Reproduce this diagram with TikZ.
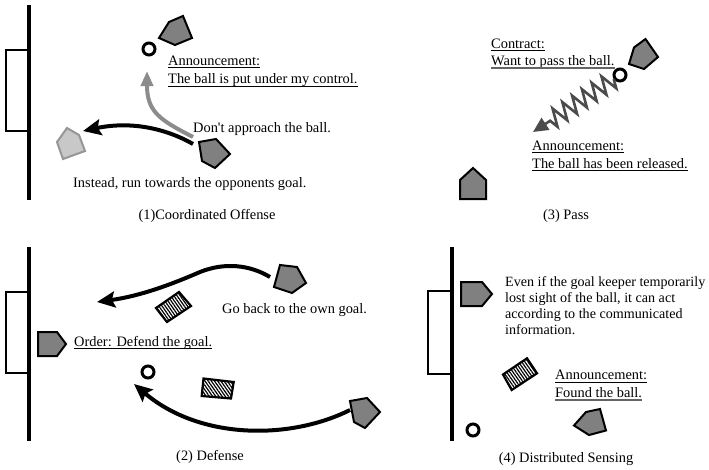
\documentclass[tikz,border=0pt]{standalone}
\usepackage{fontspec}
\setmainfont{Liberation Serif}[Ligatures=TeXOff]
\usetikzlibrary{arrows.meta,decorations.pathmorphing,patterns.meta}
\definecolor{robotgray}{RGB}{128,128,128}
\definecolor{lightfill}{RGB}{200,200,200}
\definecolor{lightline}{RGB}{150,150,150}
\definecolor{arrowgray}{RGB}{140,140,140}
\definecolor{zzgray}{RGB}{75,75,75}
\definecolor{ulgray}{RGB}{100,100,100}
\begin{document}
\begin{tikzpicture}[x=1pt,y=-1pt,
  txt/.style={anchor=base west, inner sep=0pt, font=\fontsize{14.4}{16}\selectfont},
  paratxt/.style={anchor=base west, inner sep=0pt, font=\fontsize{14.1}{16}\selectfont},
  captxt/.style={anchor=base, inner sep=0pt, font=\fontsize{14.4}{16}\selectfont},
  field/.style={line width=3.2pt},
  goalbox/.style={line width=2.8pt},
  robot/.style={draw=black, fill=robotgray, line width=2pt, line join=miter},
  lightrobot/.style={draw=lightline, fill=lightfill, line width=2pt},
  ball/.style={circle, draw=black, line width=3pt, minimum size=12pt, inner sep=0pt},
  hatchbox/.style={draw=black, line width=2.2pt, pattern={Lines[angle=-55,distance=2.6pt,line width=1.2pt]}},
  blackarrow/.style={line width=4pt, -{Stealth[length=18pt,width=16pt,inset=3pt]}},
  greyarrow/.style={draw=arrowgray, line width=4pt, -{Triangle[length=15pt,width=12pt]}},
  zz/.style={draw=zzgray, line width=2.6pt, line join=miter, decorate,
     decoration={zigzag, segment length=11.7pt, amplitude=9pt, post length=20pt},
     -{Triangle[length=15pt,width=14pt]}},
  ulblack/.style={line width=1pt, draw=black},
  ulgrey/.style={line width=1.5pt, draw=ulgray}
]
\useasboundingbox (0,0) rectangle (709,469);

% ---------------- Panel (1) ----------------
\draw[field] (29,5) -- (29,200);
\draw[goalbox] (6,50) rectangle (29,131);
\node[ball] (b1) at (149,49) {};
\draw[robot] (159,38) -- (169,22) -- (183,16) -- (192,38) -- (175,45) -- cycle;
\draw[lightrobot] (57,142) -- (67,128) -- (79,135) -- (85,151) -- (63,159) -- cycle;
\draw[robot] (199,142) -- (216,139) -- (230,154) -- (215,168) -- (202,161) -- cycle;
\coordinate (g1s) at (193,137);
\coordinate (g1e) at (147,71);
\draw[greyarrow] (g1s) .. controls (160,120) and (147,112) .. (g1e);
\coordinate (k1s) at (193,144);
\coordinate (k1e) at (83,131);
\draw[blackarrow] (k1s) .. controls (165,128) and (130,121) .. (k1e);
\node[txt] (t1a) at (168,65) {Announcement:};
\node[txt] (t1b) at (168,83) {The ball is put under my control.};
\draw[ulblack] ([yshift=-2.5pt]t1a.base west) -- ([yshift=-2.5pt]t1a.base east);
\draw[ulblack] ([yshift=-3.5pt]t1b.base west) -- ([yshift=-3.5pt]t1b.base east);
\node[txt] (t1c) at (193,132) {Don't approach the ball.};
\node[txt] (t1d) at (73,187) {Instead, run towards the opponents goal.};
\node[captxt] (c1) at (207,219) {(1)Coordinated Offense};

% ---------------- Panel (3) ----------------
\node[txt] (t3a) at (491,48) {Contract:};
\node[txt] (t3b) at (491,65) {Want to pass the ball.};
\draw[ulblack] ([yshift=-2.5pt]t3a.base west) -- ([yshift=-2.5pt]t3a.base east);
\draw[ulgrey] ([yshift=-3pt]t3b.base west) -- ([yshift=-3pt]t3b.base east);
\node[ball] (b3) at (620,75) {};
\draw[robot] (629,64) -- (634,47.5) -- (645.5,39) -- (658,57) -- (644,69) -- cycle;
\coordinate (z3e) at (533,132);
\draw[zz] (b3) -- (z3e);
\node[txt] (t3c) at (532,150) {Announcement:};
\node[txt] (t3d) at (532,168) {The ball has been released.};
\draw[ulblack] ([yshift=-2.5pt]t3c.base west) -- ([yshift=-2.5pt]t3c.base east);
\draw[ulblack] ([yshift=-2.5pt]t3d.base west) -- ([yshift=-2.5pt]t3d.base east);
\draw[robot] (460,199) -- (460,180) -- (473,168) -- (486,180) -- (486,199) -- cycle;
\node[captxt] (c3) at (566,219) {(3) Pass};

% ---------------- Panel (2) ----------------
\draw[field] (29,247) -- (29,441);
\draw[goalbox] (6,292) rectangle (29,373);
\draw[robot] (38,332) -- (57,332) -- (66,344) -- (57,356) -- (38,356) -- cycle;
\node[txt] (t2a) at (74,346) {Order: Defend the goal.};
\draw[ulblack] ([yshift=-2.5pt]t2a.base west) -- ([yshift=-2.5pt]t2a.base east);
\node[ball] (b2) at (148,372) {};
\draw[robot] (280,265) -- (297,267) -- (306,283) -- (292,293) -- (274,287) -- cycle;
\coordinate (k2s) at (270,277);
\coordinate (k2e) at (97,302);
\draw[blackarrow] (k2s) .. controls (250,265) and (225,262) .. (200,272)
   .. controls (170,285) and (140,296) .. (k2e);
\draw[hatchbox] (156,308) -- (179,292) -- (191,306) -- (167,322) -- cycle;
\node[txt] (t2b) at (222,313.5) {Go back to the own goal.};
\draw[hatchbox] (203.5,378.5) -- (233.7,382) -- (231,398.5) -- (201.7,396) -- cycle;
\coordinate (k3s) at (350,410);
\coordinate (k3e) at (134,384);
\draw[blackarrow] (k3s) .. controls (290,440) and (200,440) .. (k3e);
\draw[robot] (350,401) -- (367,398) -- (380,412) -- (365,428) -- (354,422) -- cycle;
\node[captxt] (c2) at (210,460) {(2) Defense};

% ---------------- Panel (4) ----------------
\draw[field] (452,247) -- (452,441);
\draw[goalbox] (428,291) rectangle (452,374);
\draw[robot] (461,282) -- (482,282) -- (492,294) -- (482,306) -- (461,306) -- cycle;
\node[paratxt] (t4a) at (505,286) {Even if the goal keeper temporarily};
\node[paratxt] (t4b) at (505,302) {lost sight of the ball, it can act};
\node[paratxt] (t4c) at (505,318) {according to the communicated};
\node[paratxt] (t4d) at (505,334) {information.};
\draw[hatchbox] (503,374.5) -- (527,358.3) -- (537,373.3) -- (511.7,390) -- cycle;
\node[txt] (t4e) at (555,379.5) {Announcement:};
\node[txt] (t4f) at (555,397) {Found the ball.};
\draw[ulblack] ([yshift=-2.5pt]t4e.base west) -- ([yshift=-2.5pt]t4e.base east);
\draw[ulgrey] ([yshift=-3pt]t4f.base west) -- ([yshift=-3pt]t4f.base east);
\draw[robot] (574,425.5) -- (586,412) -- (600,409) -- (606,430.5) -- (589,435) -- cycle;
\node[ball] (b4) at (473,430) {};
\node[captxt] (c4) at (566,462) {(4) Distributed Sensing};
\end{tikzpicture}
\end{document}
